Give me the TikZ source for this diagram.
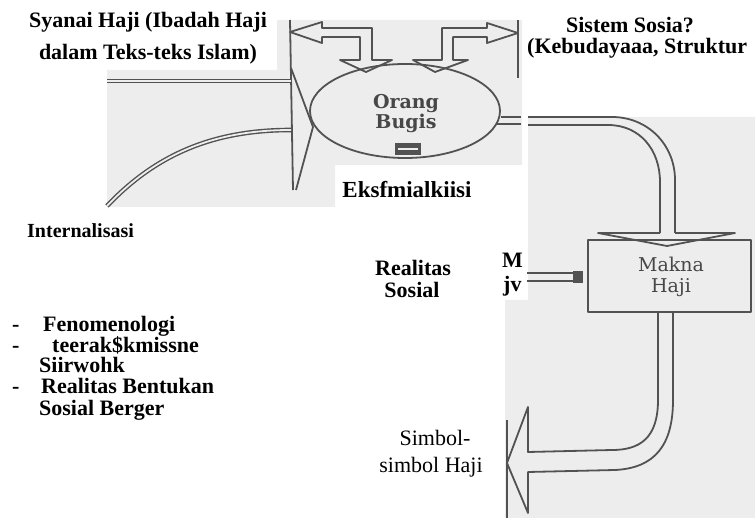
\documentclass[tikz,border=0pt]{standalone}
\usepackage{fontspec}
\setmainfont{Liberation Serif}
\newfontfamily\scanfont{DejaVu Serif}
\usetikzlibrary{shapes.geometric}
\colorlet{scangray}{black!7}
\colorlet{inkgray}{black!68}
\tikzset{
  lbl/.style={font=\bfseries\fontsize{22}{20}\selectfont, inner sep=0pt, anchor=base},
  lblw/.style={lbl, anchor=base west},
  plain/.style={font=\fontsize{22}{20}\selectfont, inner sep=0pt, anchor=base},
  scantxt/.style={font=\scanfont\fontsize{19}{19}\selectfont, text=black!72, inner sep=0pt, anchor=base},
  ink/.style={draw=inkgray, line width=1.8pt, line join=round},
  dbl/.style={draw=inkgray, line width=1.4pt, double=scangray, double distance=1.8pt},
}
\begin{document}
\begin{tikzpicture}[x=1pt,y=-1pt]
\useasboundingbox (0,0) rectangle (755,518);
% scanned background patches
\fill[scangray] (277,20) -- (522,20) -- (522,165) -- (335,165) -- (335,207) -- (107,207) -- (107,70) -- (277,70) -- cycle;
\fill[scangray] (528,117) -- (755,117) -- (755,518) -- (505,518) -- (505,300) -- (528,300) -- cycle;

% labels
\node[lbl] (syan1) at (148,28) {Syanai Haji (Ibadah Haji};
\node[lbl] (syan2) at (148,60) {dalam Teks-teks Islam)};
\node[lbl] (sis1) at (630,33) {Sistem Sosia?};
\node[lblw] (sis2) at (527,54) {(Kebudayaaa, Struktur};
\node[lbl, font=\bfseries\fontsize{23}{20}\selectfont] (eks) at (407,198) {Eksfmialkiisi};
\node[lblw, font=\bfseries\fontsize{20}{20}\selectfont] (intern) at (27,238) {Internalisasi};
\node[lblw] (d1) at (12,332) {-};
\node[lblw] (l1) at (43,332) {Fenomenologi};
\node[lblw] (d2) at (12,353) {-};
\node[lblw] (l2) at (52,353) {teerak\$kmissne};
\node[lblw] (l3) at (39,373) {Siirwohk};
\node[lblw] (d3) at (12,394) {-};
\node[lblw] (l4) at (41,394) {Realitas Bentukan};
\node[lblw] (l5) at (39,415) {Sosial Berger};
\node[lbl] (real1) at (413,276) {Realitas};
\node[lbl] (real2) at (412,298) {Sosial};
\node[lblw] (m1) at (502,268) {M};
\node[lblw] (m2) at (503,292) {jv};
\node[plain] (simb1) at (435,446) {Simbol-};
\node[plain] (simb2) at (431,472) {simbol Haji};

% Orang Bugis ellipse
\node[ellipse, ink, minimum width=190pt, minimum height=94pt, inner sep=0pt] (bugis) at (405,111) {};
\node[scantxt, font=\scanfont\bfseries\fontsize{19}{19}\selectfont] (orang) at (406,109) {Orang};
\node[scantxt, font=\scanfont\bfseries\fontsize{19}{19}\selectfont] (bug2) at (406,129) {Bugis};
\fill[inkgray] (395,143) rectangle (421,155);
\draw[scangray, line width=1.4pt] (398,149) -- (418,149);

% Makna Haji box
\node[rectangle, ink, minimum width=163pt, minimum height=72pt, inner sep=0pt] (makna) at (669.5,276) {};
\node[scantxt] (mk1) at (671,272) {Makna};
\node[scantxt] (mk2) at (671,293) {Haji};

% top left/right bent double arrows
\draw[ink] (290,20) -- (293,190);
\draw[ink] (518,20) -- (518,78);
\draw[ink] (290,32) -- (322,22) -- (322,28) -- (372,28) -- (372,60) -- (392,60) -- (366,72) -- (340,60) -- (360,60) -- (360,37) -- (322,37) -- (322,43) -- cycle;
\draw[ink] (518,33) -- (487,23) -- (487,28) -- (442,28) -- (442,60) -- (413,60) -- (435,72) -- (468,60) -- (453,60) -- (453,37) -- (487,37) -- (487,43) -- cycle;

% left big arrow into ellipse
\draw[dbl] (107,81) -- (291,81);
\draw[dbl] (107,206) .. controls (160,150) and (220,130) .. (291,130);
\draw[ink] (291,68) -- (313,127) -- (296,190);

% pipe from ellipse to right arrow
\draw[ink, line width=1.3pt] (bugis.east |- 0,117) -- (521,117);
\draw[ink, line width=1.3pt] (497,124) -- (521,124);

% right arrow down into box
\draw[ink] (528,117) -- (612,117) .. controls (648,117) and (675,145) .. (675,180) -- (675,233);
\draw[ink] (528,125) -- (608,125) .. controls (640,125) and (660,150) .. (660,182) -- (660,233);
\draw[ink] (660,233) -- (598,233) -- (667,246) -- (735,233) -- (675,233);

% small pipe into box
\draw[ink, line width=1.3pt] (527,273) -- (575,273);
\draw[ink, line width=1.3pt] (527,281) -- (575,281);
\fill[inkgray] (573,271) rectangle (583,283);

% arrow from box down and left
\draw[ink] (658,313) -- (658,400) .. controls (658,438) and (640,450) .. (612,450) -- (528,452) -- (528,407) -- (507,463) -- (528,513) -- (528,472) -- (615,470) .. controls (655,468) and (673,445) .. (673,400) -- (673,313);
\draw[ink, line width=1.3pt] (507,420) -- (507,518);
\end{tikzpicture}
\end{document}
